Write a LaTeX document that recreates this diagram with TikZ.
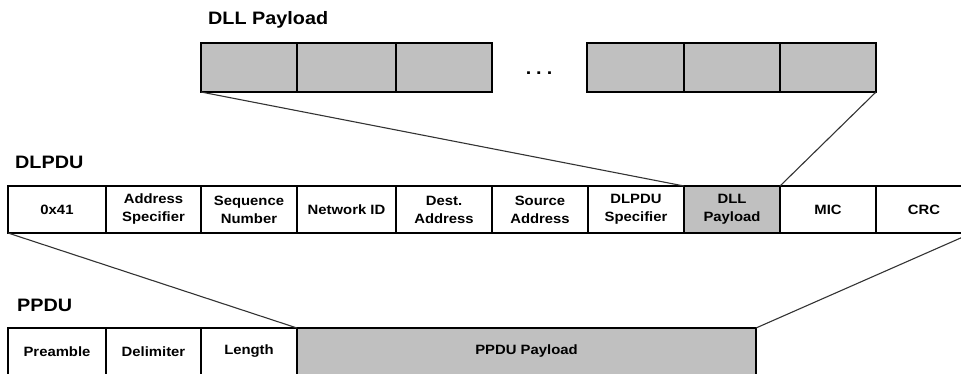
\documentclass[tikz,border=0pt]{standalone}
\usepackage{fontspec}
\setmainfont{Liberation Sans}[FakeStretch=1.1]
\definecolor{cellgray}{HTML}{C0C0C0}
\definecolor{linkgray}{HTML}{333333}
\tikzset{
  cell/.style={draw=black, line width=1.3pt, rectangle, inner sep=0pt, outer sep=0pt,
    align=center, font=\fontsize{13.5}{18}\selectfont\bfseries},
  gcell/.style={cell, fill=cellgray},
  title/.style={anchor=west, inner sep=0pt, font=\fontsize{18}{20}\selectfont\bfseries},
  conn/.style={draw=linkgray, line width=1.1pt},
}
\begin{document}
\begin{tikzpicture}[x=1pt, y=-1pt]
\useasboundingbox (0,0) rectangle (961,374);
\clip (0,0) rectangle (961,374);

% DLL payload fragments
\node[title] (tdll) at (208,20) {DLL Payload};
\foreach \i/\a/\b in {1/201/297, 2/297/396, 3/396/492, 4/587/684, 5/684/780, 6/780/876}
  \node[gcell, minimum width={\b-\a}, minimum height=49pt] (p\i) at ({(\a+\b)/2}, 67.5) {};
\node[inner sep=0pt, font=\fontsize{18}{20}\selectfont\bfseries] (dots) at (539,73) {.\hspace{5pt}.\hspace{5pt}.};

% DLPDU fields
\node[title] (tdlpdu) at (15,162.5) {DLPDU};
\foreach \i/\a/\b/\t in {1/8/106/{0x41}, 2/106/201/{Address\\Specifier}, 3/201/297/{Sequence\\Number},
    4/297/396/{Network ID}, 5/396/492/{Dest.\\Address}, 6/492/588/{Source\\Address},
    7/588/684/{DLPDU\\Specifier}, 9/780/876/{MIC}, 10/876/972/{CRC}}
  \node[cell, minimum width={\b-\a}, minimum height=47pt] (d\i) at ({(\a+\b)/2}, 209.5) {\t};
\node[gcell, minimum width=96pt, minimum height=47pt] (d8) at (732,209.5) {DLL\\Payload};

% PPDU fields
\node[title] (tppdu) at (17,305) {PPDU};
\foreach \i/\a/\b/\t in {1/8/106/{Preamble}, 2/106/201/{Delimiter}, 3/201/297/{Length}}
  \node[cell, minimum width={\b-\a}, minimum height=47pt] (q\i) at ({(\a+\b)/2}, 351.5) {\t};
\node[gcell, minimum width=459pt, minimum height=47pt] (q4) at (526.5,351.5) {PPDU Payload};

% expansion lines
\draw[conn] (p1.south west) -- (d8.north west);
\draw[conn] (p6.south east) -- (d8.north east);
\draw[conn] (d1.south west) -- (q4.north west);
\draw[conn] (d10.south east) -- (q4.north east);
\end{tikzpicture}
\end{document}
